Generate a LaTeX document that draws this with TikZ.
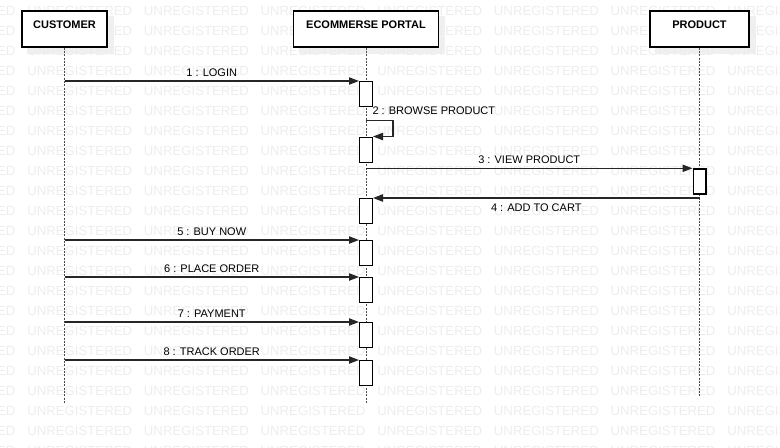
\documentclass[tikz,border=0pt]{standalone}
\usepackage{fontspec}
\setmainfont{Liberation Sans}
\usetikzlibrary{arrows.meta,backgrounds}

\tikzset{every picture/.style={line width=0.75pt}}
\tikzset{
  head/.style={draw=black,line width=1pt,fill=white,inner sep=0pt,minimum width=#1,
    text height=13pt,text depth=14pt,anchor=base,font=\fontsize{8.25}{10}\selectfont\bfseries},
  act/.style={draw=black,line width=1pt,fill=white,anchor=north,inner sep=0pt,
    minimum width=9.5pt,minimum height=18.75pt},
  msg/.style={draw=black!85,line width=0.9pt,-{Triangle[length=7.5pt,width=5.5pt]}},
  life/.style={draw=black!70,dash pattern={on 1.5pt off 1pt}},
  lbl/.style={font=\fontsize{8.25}{10}\selectfont,inner sep=0pt,text height=6pt,text depth=0pt},
  wmark/.style={font=\fontsize{9.9}{12}\selectfont,text=black!7,inner sep=0pt,anchor=base west},
  shade/.style={fill=black,opacity=0.06}
}

\begin{document}
\begin{tikzpicture}[x=0.75pt,y=0.75pt,yscale=-1,xscale=1]
\useasboundingbox (0,0) rectangle (780,447);

%Shape: Rectangle (heads)
\node[head=63.75pt] (cust) at (64.5,28.3) {CUSTOMER};
\node[head=108.75pt] (port) at (366,28.3) {ECOMMERSE PORTAL};
\node[head=74.25pt] (prod) at (699.5,28.3) {PRODUCT};

%Straight Lines (lifelines)
\coordinate (custEnd) at (64.5,403);
\coordinate (portEnd) at (366,403);
\coordinate (prodEnd) at (699.5,397);
\draw[life] (cust.south) -- (custEnd);
\draw[life] (port.south) -- (portEnd);
\draw[life] (prod.south) -- (prodEnd);

%Shape: Rectangle (activations)
\node[act] (a1) at (366,81) {};
\node[act] (a2) at (366,136.5) {};
\node[act] (a3) at (366,198) {};
\node[act] (a4) at (366,240) {};
\node[act] (a5) at (366,277) {};
\node[act] (a6) at (366,322) {};
\node[act] (a7) at (366,360) {};
\node[act] (p1) at (699.5,168.3) {};

%Straight Lines (messages)
\draw[msg] (cust |- a1.north) -- (a1.north west)
  node[lbl,midway,anchor=south,inner ysep=3pt] (l1) {1 : LOGIN};
\draw[msg] ([shift={(0,13)}]a1.south) -- ++(27,0) |- (a2.north east);
\draw[msg] (port |- p1.north) -- (p1.north west)
  node[lbl,midway,anchor=south,inner ysep=3pt] (l3) {3 : VIEW PRODUCT};
\draw[msg] (prod |- a3.north) -- (a3.north east)
  node[lbl,midway,anchor=north,inner ysep=3.5pt] (l4) {4 : ADD TO CART};
\draw[msg] (cust |- a4.north) -- (a4.north west)
  node[lbl,midway,anchor=south,inner ysep=3pt] (l5) {5 : BUY NOW};
\draw[msg] (cust |- a5.north) -- (a5.north west)
  node[lbl,midway,anchor=south,inner ysep=3pt] (l6) {6 : PLACE ORDER};
\draw[msg] (cust |- a6.north) -- (a6.north west)
  node[lbl,midway,anchor=south,inner ysep=3pt] (l7) {7 : PAYMENT};
\draw[msg] (cust |- a7.north) -- (a7.north west)
  node[lbl,midway,anchor=south,inner ysep=3pt] (l8) {8 : TRACK ORDER};

% Text Node
\node[lbl,anchor=west] (l2) at ([shift={(-1,3.5)}]a1.south east) {2 : BROWSE PRODUCT};

%Shadows and watermark
\begin{scope}[on background layer]
  \clip (0,0) rectangle (780,447);
  \fill[shade] ([shift={(6,6)}]cust.south west) rectangle ([shift={(6,6)}]cust.north east);
  \fill[shade] ([shift={(6,6)}]port.south west) rectangle ([shift={(6,6)}]port.north east);
  \fill[shade] ([shift={(6,6)}]prod.south west) rectangle ([shift={(6,6)}]prod.north east);
  \foreach \r in {0,...,22}
    \foreach \c in {0,...,7}
      \node[wmark] (wm-\r-\c) at ({-89.67+116.67*\c},{15+20*\r}) {UNREGISTERED};
\end{scope}
\end{tikzpicture}
\end{document}
